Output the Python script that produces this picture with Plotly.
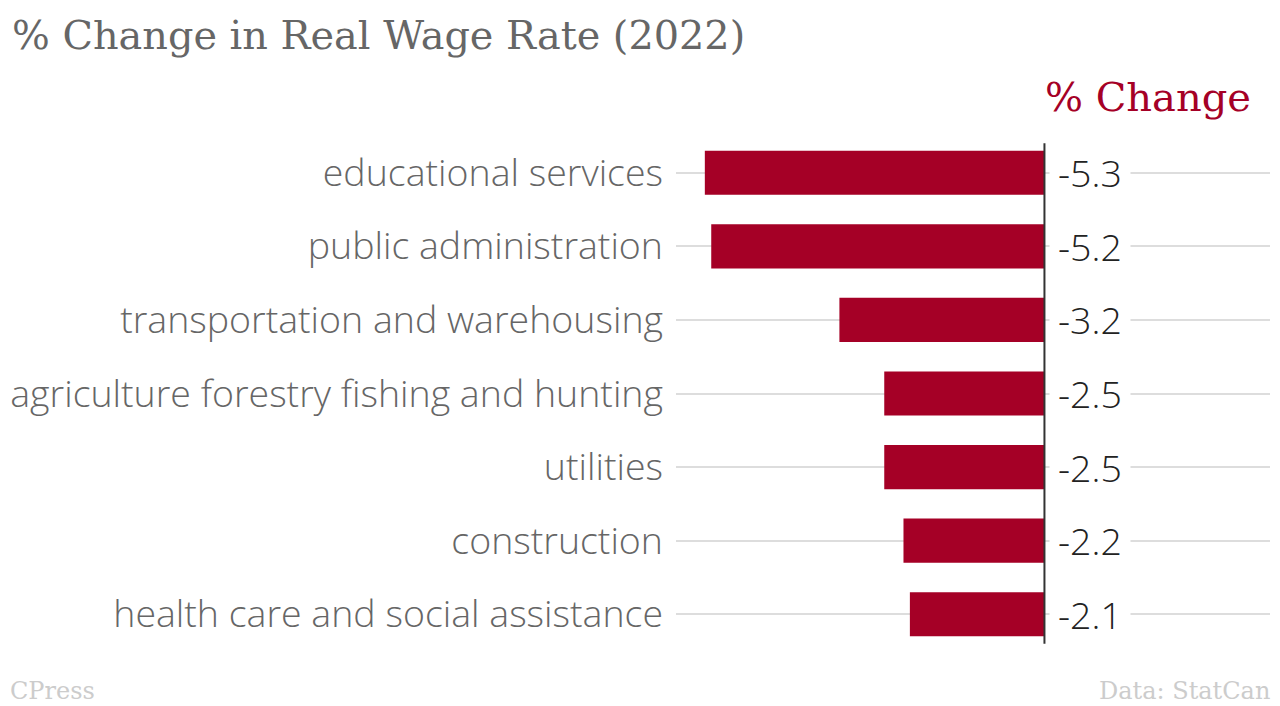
import plotly.graph_objects as go

categories = [
    "educational services",
    "public administration",
    "transportation and warehousing",
    "agriculture forestry fishing and hunting",
    "utilities",
    "construction",
    "health care and social assistance",
]
values = [-5.3, -5.2, -3.2, -2.5, -2.5, -2.2, -2.1]
value_labels = ["-5.3", "-5.2", "-3.2", "-2.5", "-2.5", "-2.2", "-2.1"]

RED = "#a50026"
W, H = 1280, 706
L, R, T, B = 674, 10, 136, 55
XMIN, XMAX = -5.75, 3.52
plot_w = W - L - R
plot_h = H - T - B

fig = go.Figure()
fig.add_trace(go.Bar(
    x=values, y=categories, orientation="h",
    marker=dict(color=RED, line=dict(width=0)),
    width=0.6, hoverinfo="skip",
))

for c, lab in zip(categories, value_labels):
    fig.add_annotation(
        x=0, y=c, xref="x", yref="y", text=lab, showarrow=False,
        xanchor="left", yanchor="middle", xshift=5,
        bgcolor="white", borderpad=8,
        font=dict(family="Open Sans", size=37.5, color="#222", weight=300),
    )

fig.add_shape(type="line", x0=0, x1=0, y0=-0.4, y1=6.4, xref="x", yref="y",
              line=dict(color="#333", width=2), layer="above")

fig.add_annotation(
    x=(1042 - L) / plot_w, y=1 + (T - 97) / plot_h, xref="paper", yref="paper",
    text="% Change", showarrow=False, xanchor="left", yanchor="middle",
    font=dict(family="DejaVu Serif", size=40, color=RED),
)

fig.add_annotation(
    x=-L / plot_w, y=-(691 - (H - B)) / plot_h, xref="paper", yref="paper",
    text="CPress", showarrow=False, xanchor="left", yanchor="middle",
    xshift=4,
    font=dict(family="DejaVu Serif", size=24, color="#cccccc"),
)
fig.add_annotation(
    x=1 + R / plot_w, y=-(691 - (H - B)) / plot_h, xref="paper", yref="paper",
    text="Data: StatCan", showarrow=False, xanchor="right", yanchor="middle",
    xshift=-8,
    font=dict(family="DejaVu Serif", size=24, color="#cccccc"),
)

fig.update_layout(
    width=W, height=H,
    margin=dict(l=L, r=R, t=T, b=B, pad=0),
    paper_bgcolor="white", plot_bgcolor="white",
    showlegend=False,
    title=dict(text="% Change in Real Wage Rate (2022)", x=12 / W, xanchor="left",
               y=1 - 35 / H, yanchor="middle",
               font=dict(family="DejaVu Serif", size=39.8, color="#666666")),
    xaxis=dict(range=[XMIN, XMAX], showgrid=False, zeroline=False,
               showticklabels=False, ticks="", fixedrange=True),
    yaxis=dict(autorange="reversed", showgrid=True, gridcolor="#dddddd", gridwidth=2,
               zeroline=False, ticks="", ticklabelstandoff=12,
               tickfont=dict(family="Open Sans", size=37.5, color="#666666", weight=300),
               fixedrange=True),
)

fig.write_html("out.html", config={"displayModeBar": False},
               post_script="document.body.style.margin='0';")
